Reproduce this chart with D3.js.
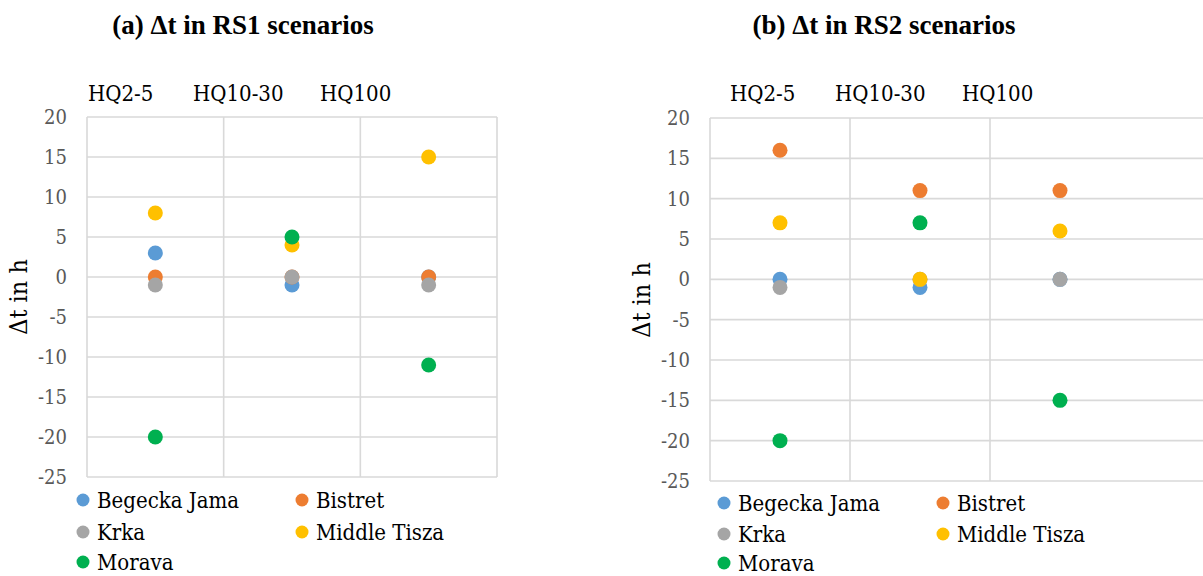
<!DOCTYPE html>
<html>
<head>
<meta charset="utf-8">
<script src="https://cdn.jsdelivr.net/npm/d3@7"></script>
<style>
  html, body { margin: 0; padding: 0; background: #fff; }
  svg { display: block; }
</style>
</head>
<body>
<svg id="chart" width="1203" height="576"></svg>
<script>
// Flood-wave timing differences (hours) per river basin and return period
const categories = ["HQ2-5", "HQ10-30", "HQ100"];
const seriesNames = ["Begecka Jama", "Bistret", "Krka", "Middle Tisza", "Morava"];
const seriesColors = ["#5B9BD5", "#ED7D31", "#A5A5A5", "#FFC000", "#00B050"];
const yTicks = [-25, -20, -15, -10, -5, 0, 5, 10, 15, 20];

// RS1 scenarios
const rs1BegeckaJama = [3, -1, 0];
const rs1Bistret = [0, 0, 0];
const rs1Krka = [-1, 0, -1];
const rs1MiddleTisza = [8, 4, 15];
const rs1Morava = [-20, 5, -11];

// RS2 scenarios
const rs2BegeckaJama = [0, -1, 0];
const rs2Bistret = [16, 11, 11];
const rs2Krka = [-1, 0, 0];
const rs2MiddleTisza = [7, 0, 6];
const rs2Morava = [-20, 7, -15];

const panels = [
  {
    title: "(a) Δt in RS1 scenarios",
    values: [rs1BegeckaJama, rs1Bistret, rs1Krka, rs1MiddleTisza, rs1Morava],
    left: 87, right: 497, gridRight: 497, top: 117, bottom: 477,
    titleX: 243, yTitleX: 27, yTitleY: 297,
    catX: 88, legendX: 83, legendY: 500, legendDy: [0, 32, 62]
  },
  {
    title: "(b) Δt in RS2 scenarios",
    values: [rs2BegeckaJama, rs2Bistret, rs2Krka, rs2MiddleTisza, rs2Morava],
    left: 710, right: 1130, gridRight: 1215, top: 118, bottom: 481,
    titleX: 884, yTitleX: 650, yTitleY: 300,
    catX: 730, legendX: 724, legendY: 503, legendDy: [0, 31, 60]
  }
];

const svg = d3.select("#chart");
const gridColor = "#D9D9D9";
const serifBold = "'Liberation Serif', 'DejaVu Serif', serif";
const serif = "'DejaVu Serif Condensed', 'DejaVu Serif', serif";

function bodyText(sel, size) {
  return sel.attr("font-family", serif)
    .attr("font-stretch", "condensed")
    .attr("font-size", size);
}

panels.forEach(p => {
  const g = svg.append("g");

  const x = d3.scaleBand().domain(categories).range([p.left, p.right]);
  const y = d3.scaleLinear().domain([-25, 20]).range([p.bottom, p.top]);

  // Title
  g.append("text")
    .attr("x", p.titleX).attr("y", 34)
    .attr("text-anchor", "middle")
    .attr("font-family", serifBold)
    .attr("font-size", 27).attr("font-weight", "bold")
    .attr("fill", "#000")
    .text(p.title);

  // Category labels set in a row above the plot
  const catOffsets = [0, 105, 232];
  bodyText(g.selectAll("text.cat").data(categories).join("text"), 22)
    .attr("class", "cat")
    .attr("x", (d, i) => p.catX + catOffsets[i])
    .attr("y", 101)
    .attr("fill", "#000")
    .text(d => d);

  // Horizontal gridlines
  g.selectAll("line.h").data(yTicks).join("line")
    .attr("class", "h")
    .attr("x1", p.left).attr("x2", p.gridRight)
    .attr("y1", d => y(d)).attr("y2", d => y(d))
    .attr("stroke", gridColor).attr("stroke-width", 1.6);

  // Vertical gridlines at category boundaries
  const bounds = categories.map(c => x(c));
  if (p.gridRight <= p.right) bounds.push(p.right);
  g.selectAll("line.v").data(bounds).join("line")
    .attr("class", "v")
    .attr("x1", d => d).attr("x2", d => d)
    .attr("y1", p.top).attr("y2", p.bottom)
    .attr("stroke", gridColor).attr("stroke-width", 1.6);

  // Y axis tick labels (plain hyphen for negatives)
  const yAxis = d3.axisLeft(y).tickValues(yTicks).tickSize(0).tickPadding(20)
    .tickFormat(d => String(d));
  const ya = g.append("g").attr("transform", `translate(${p.left},0)`).call(yAxis);
  ya.attr("font-family", null).attr("font-size", null);
  ya.select(".domain").remove();
  bodyText(ya.selectAll("text"), 20).attr("fill", "#595959");

  // Y axis title
  bodyText(g.append("text"), 25)
    .attr("transform", `translate(${p.yTitleX},${p.yTitleY}) rotate(-90)`)
    .attr("text-anchor", "middle")
    .attr("fill", "#000")
    .text("Δt in h");

  // Points, series drawn in legend order
  seriesNames.forEach((name, si) => {
    g.append("g").selectAll("circle").data(p.values[si]).join("circle")
      .attr("cx", (d, i) => x(categories[i]) + x.bandwidth() / 2)
      .attr("cy", d => y(d))
      .attr("r", 7.5)
      .attr("fill", seriesColors[si]);
  });

  // Legend: two columns
  const leg = g.append("g");
  seriesNames.forEach((name, si) => {
    const col = si % 2, row = Math.floor(si / 2);
    const lx = p.legendX + col * 219;
    const ly = p.legendY + p.legendDy[row];
    leg.append("circle").attr("cx", lx).attr("cy", ly).attr("r", 6.5)
      .attr("fill", seriesColors[si]);
    bodyText(leg.append("text"), 22).attr("x", lx + 14).attr("y", ly + 8)
      .attr("fill", "#000")
      .text(name);
  });
});
</script>
</body>
</html>
